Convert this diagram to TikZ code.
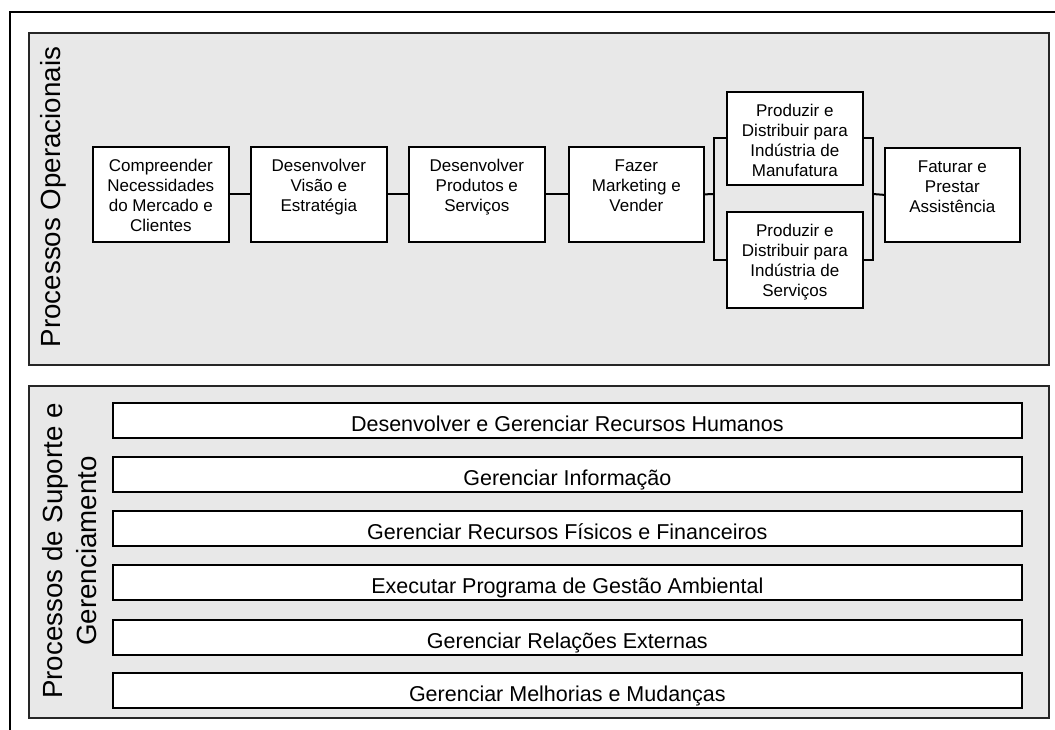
\documentclass[tikz,border=0pt]{standalone}
\usepackage{fontspec}
\setmainfont{Liberation Sans}
% top-aligned, centred text inside a fixed-size process box
\newcommand{\proctext}[3]{\parbox[t][#2pt][t]{#1pt}{\centering\rule{0pt}{24.5pt}#3}}
\begin{document}
\begin{tikzpicture}[x=1pt,y=-1pt,
  frame/.style={draw=black, line width=1.5pt},
  panel/.style={draw=black!85, fill=black!9, line width=1.6pt, inner sep=0pt, anchor=north west},
  procbox/.style={draw=black, fill=white, line width=1.7pt, inner sep=0pt, anchor=north west,
    font=\fontsize{17}{20}\selectfont},
  bar/.style={draw=black, fill=white, line width=1.7pt, inner sep=0pt, anchor=north west,
    minimum width=909pt, minimum height=35pt, text height=22pt, text depth=0pt,
    font=\fontsize{21.5}{25}\selectfont},
  side/.style={rotate=90, inner sep=0pt, align=center, font=\fontsize{27.7}{34}\selectfont},
  link/.style={draw=black, line width=2pt}]
\useasboundingbox (0,0) rectangle (1055,729);
\begin{scope}
  \clip (0,0) rectangle (1055,729);
  \draw[frame] (10,12) rectangle (1080,760);
\end{scope}

% the two process groups
\node[panel, minimum width=1020pt, minimum height=332pt] (ops) at (28,32) {};
\node[panel, minimum width=1020pt, minimum height=332pt] (sup) at (28,385) {};

\node[side, anchor=base] (opslabel) at (60,197) {Processos Operacionais};
\node[side, anchor=north] (suplabel) at (42,551) {Processos de Suporte e\\Gerenciamento};

% operational chain
\node[procbox] (b1) at (92,146) {\proctext{136}{95}{Compreender\\Necessidades\\do Mercado e\\Clientes}};
\node[procbox] (b2) at (250,146) {\proctext{136}{95}{Desenvolver\\Visão e\\Estratégia}};
\node[procbox] (b3) at (408,146) {\proctext{136}{95}{Desenvolver\\Produtos e\\Serviços}};
\node[procbox] (b4) at (568,146) {\proctext{135}{95}{Fazer\\Marketing e\\Vender}};
\node[procbox] (b5) at (726,91) {\proctext{136}{93}{Produzir e\\Distribuir para\\Indústria de\\Manufatura}};
\node[procbox] (b6) at (726,211) {\proctext{136}{96}{Produzir e\\Distribuir para\\Indústria de\\Serviços}};
\node[procbox] (b7) at (884,147) {\proctext{135}{94}{Faturar e\\Prestar\\Assistência}};

\draw[link] (b1.east) -- (b2.west);
\draw[link] (b2.east) -- (b3.west);
\draw[link] (b3.east) -- (b4.west);

\coordinate (forkL) at (714,194);
\coordinate (forkR) at (873,194);
\draw[link] (b4.east) -- (forkL);
\draw[link] (b5.west) -| (forkL) |- (b6.west);
\draw[link] (b5.east) -| (forkR) |- (b6.east);
\draw[link] (forkR) -- (b7.west);

% support and management processes
\node[bar] (s1) at (112,402) {Desenvolver e Gerenciar Recursos Humanos};
\node[bar] (s2) at (112,456) {Gerenciar Informação};
\node[bar] (s3) at (112,510) {Gerenciar Recursos Físicos e Financeiros};
\node[bar] (s4) at (112,564) {Executar Programa de Gestão Ambiental};
\node[bar] (s5) at (112,619) {Gerenciar Relações Externas};
\node[bar] (s6) at (112,672) {Gerenciar Melhorias e Mudanças};
\end{tikzpicture}
\end{document}
